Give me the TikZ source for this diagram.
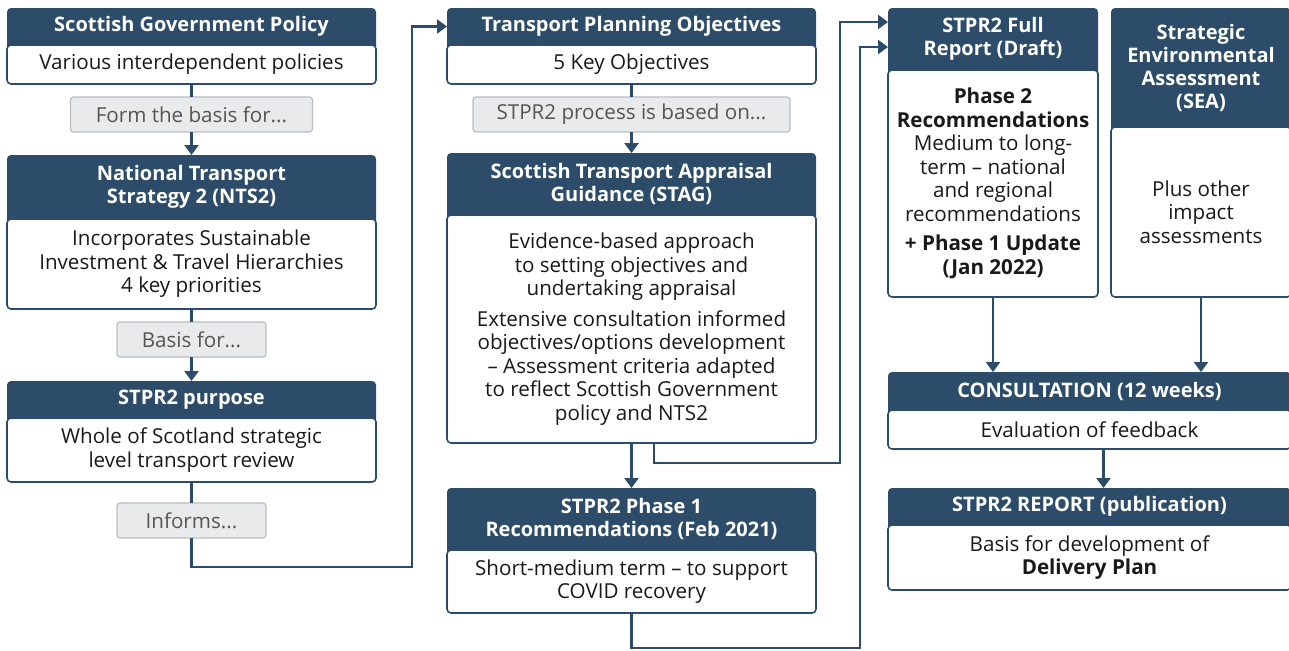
\documentclass[tikz,border=0pt]{standalone}
\usepackage{fontspec}
\setmainfont{Open Sans}
\usepackage{xcolor}
\usepackage{tikz}
\usetikzlibrary{arrows.meta,backgrounds}
\definecolor{navy}{RGB}{44,76,106}
\definecolor{labelgray}{RGB}{233,234,235}
\definecolor{labeledge}{RGB}{185,190,196}
\definecolor{labeltext}{RGB}{85,85,85}
\definecolor{bodytext}{RGB}{25,25,25}

\begin{document}
\begin{tikzpicture}[x=0.5pt, y=-0.5pt,
  font=\fontsize{10.3}{11.75}\selectfont,
  head/.style={anchor=north, text=white, font=\fontsize{10}{11.5}\selectfont\bfseries, align=center, outer sep=0pt, inner sep=2pt},
  body/.style={anchor=north, fill=white, draw=navy, line width=0.8pt, rounded corners=2pt, align=center, text=bodytext, outer sep=0pt, inner sep=2pt},
  link/.style={rectangle, fill=labelgray, draw=labeledge, line width=0.6pt, rounded corners=1.5pt, text=labeltext, minimum height=17.5pt, outer sep=0pt},
  panel/.style={fill=navy, rounded corners=2pt},
  arrow/.style={-{Triangle[width=7pt,length=5pt]}, line width=1.3pt, draw=navy},
  wire/.style={line width=1.3pt, draw=navy}
]
\useasboundingbox (0,0) rectangle (1289,650);

% Left column
\node[head, minimum width=184.5pt, minimum height=18.5pt] (sgph) at (191.5,8) {Scottish Government Policy};
\node[body, minimum width=184.5pt, minimum height=19.5pt] (sgp) at (sgph.south) {Various interdependent policies};
\node[link, minimum width=121pt] (lab1) at (191.5,114.5) {Form the basis for...};
\node[head, minimum width=184.5pt, minimum height=32pt] (ntsh) at (191.5,155) {National Transport\\Strategy 2 (NTS2)};
\node[body, minimum width=184.5pt, minimum height=45pt] (nts) at (ntsh.south) {Incorporates Sustainable\\Investment \& Travel Hierarchies\\4 key priorities};
\node[link, minimum width=74.5pt] (lab2) at (191.5,339.5) {Basis for...};
\node[head, minimum width=184.5pt, minimum height=18.5pt] (purh) at (191.5,381) {STPR2 purpose};
\node[body, minimum width=184.5pt, minimum height=32pt] (pur) at (purh.south) {Whole of Scotland strategic\\level transport review};
\node[link, minimum width=74.5pt] (lab3) at (191.5,520.5) {Informs...};

% Middle column
\node[head, minimum width=184.5pt, minimum height=18.5pt] (tpoh) at (631.5,8) {Transport Planning Objectives};
\node[body, minimum width=184.5pt, minimum height=19.5pt] (tpo) at (tpoh.south) {5 Key Objectives};
\node[link, minimum width=158.5pt] (lab4) at (631.5,114.5) {STPR2 process is based on...};
\node[head, minimum width=184.5pt, minimum height=31pt] (stagh) at (631.5,153) {Scottish Transport Appraisal\\Guidance (STAG)};
\node[body, minimum width=184.5pt, minimum height=114pt] (stag) at (stagh.south) {Evidence-based approach\\to setting objectives and\\undertaking appraisal\\[3.5pt]Extensive consultation informed\\objectives/options development\\– Assessment criteria adapted\\to reflect Scottish Government\\policy and NTS2};
\node[head, minimum width=184.5pt, minimum height=31pt] (ph1h) at (631.5,488) {STPR2 Phase 1\\Recommendations (Feb 2021)};
\node[body, minimum width=184.5pt, minimum height=31.5pt] (ph1) at (ph1h.south) {Short-medium term – to support\\COVID recovery};

% Right column
\node[head, minimum width=105pt, minimum height=31pt] (fullh) at (993,8) {STPR2 Full\\Report (Draft)};
\node[body, minimum width=105pt, minimum height=113.5pt] (full) at (fullh.south) {{\bfseries Phase 2}\\{\bfseries Recommendations}\\Medium to long-\\term – national\\and regional\\recommendations\\[3pt]{\bfseries + Phase 1 Update}\\{\bfseries (Jan 2022)}};
\node[head, minimum width=90pt, minimum height=59.5pt] (seah) at (1201,8) {Strategic\\Environmental\\Assessment\\(SEA)};
\node[body, minimum width=90pt, minimum height=85pt] (sea) at (seah.south) {Plus other\\impact\\assessments};
\node[head, minimum width=201.5pt, minimum height=19pt] (consh) at (1089.5,372) {CONSULTATION (12 weeks)};
\node[body, minimum width=201.5pt, minimum height=19.5pt] (cons) at (consh.south) {Evaluation of feedback};
\node[head, minimum width=201.5pt, minimum height=18.5pt] (reph) at (1089.5,488) {STPR2 REPORT (publication)};
\node[body, minimum width=201.5pt, minimum height=32.5pt] (rep) at (reph.south) {Basis for development of\\{\bfseries Delivery Plan}};

% Header panels
\begin{scope}[on background layer]
\fill[panel] (sgph.north west) rectangle (sgp.south east);
\fill[panel] (ntsh.north west) rectangle (nts.south east);
\fill[panel] (purh.north west) rectangle (pur.south east);
\fill[panel] (tpoh.north west) rectangle (tpo.south east);
\fill[panel] (stagh.north west) rectangle (stag.south east);
\fill[panel] (ph1h.north west) rectangle (ph1.south east);
\fill[panel] (fullh.north west) rectangle (full.south east);
\fill[panel] (seah.north west) rectangle (sea.south east);
\fill[panel] (consh.north west) rectangle (cons.south east);
\fill[panel] (reph.north west) rectangle (rep.south east);
\end{scope}

% Turning points
\coordinate (turn1) at (412,567);
\coordinate (turn2) at (840,463);
\coordinate (turn3) at (860,648);

% Arrows
\draw[wire] (sgp.south) -- (lab1.north);
\draw[arrow] (lab1.south) -- (ntsh.north);
\draw[wire] (nts.south) -- (lab2.north);
\draw[arrow] (lab2.south) -- (purh.north);
\draw[wire] (pur.south) -- (lab3.north);
\draw[arrow] (lab3.south) |- (turn1) |- (tpoh.west);

\draw[wire] (tpo.south) -- (lab4.north);
\draw[arrow] (lab4.south) -- (stagh.north);
\draw[arrow] (stag.south) -- (ph1h.north);
\draw[arrow] ([xshift=11.25pt]stag.south) |- (turn2) |- ([yshift=8.5pt]fullh.west);
\draw[arrow] (ph1.south) |- (turn3) |- ([yshift=-4pt]fullh.west);

\draw[arrow] (full.south) -- (full.south |- consh.north);
\draw[arrow] (sea.south) -- (sea.south |- consh.north);
\draw[arrow] ([xshift=7pt]cons.south) -- ([xshift=7pt]reph.north);

\end{tikzpicture}
\end{document}
